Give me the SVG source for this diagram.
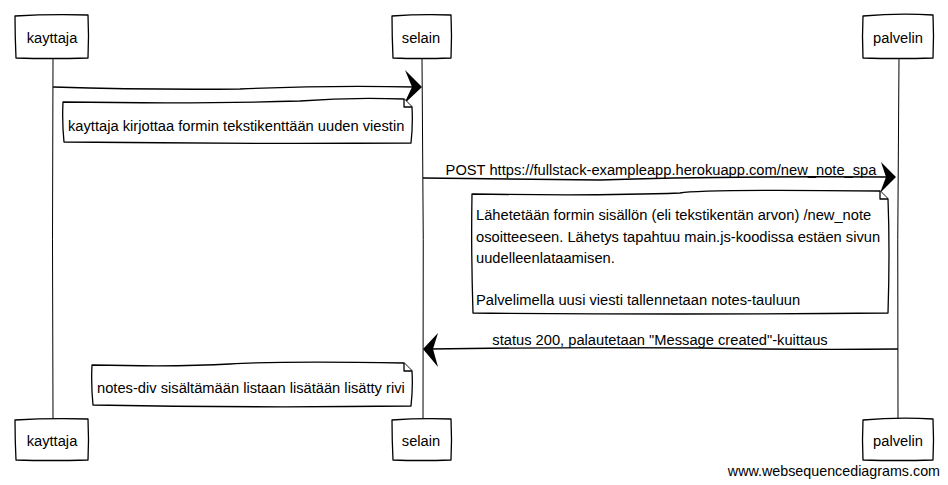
<svg xmlns="http://www.w3.org/2000/svg" width="948" height="485" viewBox="0 0 948 485">
<style>
.box{fill:#fff;stroke:#000;stroke-width:1.3;stroke-linejoin:round}
.life{fill:none;stroke:#000;stroke-width:1}
.msg{fill:none;stroke:#000;stroke-width:1.4}
.head{fill:#000;stroke:none}
.t{font-family:"Liberation Sans",Arial,sans-serif;font-size:14.7px;fill:#000}
.m{text-anchor:middle}
</style>
<rect width="948" height="485" fill="#fff"/>
<g id="lifelines">
<path class="life" d="M53 58 Q52 240 53 419"/>
<path class="life" d="M422 58 Q424 240 423 419"/>
<path class="life" d="M899 58 Q897 240 898 419"/>
</g>
<g id="connectors">
<path class="msg" d="M53 87 Q150 90 240 89 Q330 85 416 87"/>
<path class="head" d="M422 87 L405 70 L412 87 L404 104 Z"/>
<path class="msg" d="M423 178 Q520 179 600 180 Q700 176 888 177"/>
<path class="head" d="M896 177 L881 162 L886 177 L880 193 Z"/>
<path class="msg" d="M898 349 Q800 350 700 348 Q560 347 430 349"/>
<path class="head" d="M423 349 L438 333 L433 349 L438 367 Z"/>
</g>
<g id="kayttaja_top">
<path class="box" d="M15 16 Q50 14 88 15 Q89 36 88 58 Q50 59 16 58 Q15 36 15 16 Z"/>
<text class="t m" x="52" y="43">kayttaja</text>
</g>
<g id="selain_top">
<path class="box" d="M392 16 Q420 14 451 15 Q452 36 451 58 Q420 59 393 58 Q392 36 392 16 Z"/>
<text class="t m" x="421" y="43">selain</text>
</g>
<g id="palvelin_top">
<path class="box" d="M863 16 Q898 13 933 15 Q934 36 933 58 Q898 59 863 58 Q862 36 863 16 Z"/>
<text class="t m" x="898" y="43">palvelin</text>
</g>
<g id="note1">
<path class="box" d="M63 102 Q200 104 300 101 Q350 97 404 99 L412 107 Q413 125 411 143 Q240 144 64 142 Q62 122 63 102 Z"/>
<path class="box" d="M404 99 L404 107 L412 107" fill="none"/>
<text class="t" x="68" y="131">kayttaja kirjottaa formin tekstikenttään uuden viestin</text>
</g>
<g id="note2">
<path class="box" d="M472 194 Q600 196 680 193 Q700 189 880 191 L888 199 Q890 250 888 313 Q680 315 473 313 Q471 250 472 194 Z"/>
<path class="box" d="M880 191 L880 199 L888 199" fill="none"/>
<text class="t" x="476" y="220">Lähetetään formin sisällön (eli tekstikentän arvon) /new_note</text>
<text class="t" x="476" y="242">osoitteeseen. Lähetys tapahtuu main.js-koodissa estäen sivun</text>
<text class="t" x="476" y="263">uudelleenlataamisen.</text>
<text class="t" x="476" y="305">Palvelimella uusi viesti tallennetaan notes-tauluun</text>
</g>
<g id="note3">
<path class="box" d="M92 365 Q180 367 230 364 Q280 361 404 363 L412 371 Q413 388 411 406 Q250 408 93 405 Q91 385 92 365 Z"/>
<path class="box" d="M404 363 L404 371 L412 371" fill="none"/>
<text class="t" x="97" y="393">notes-div sisältämään listaan lisätään lisätty rivi</text>
</g>
<g id="kayttaja_bottom">
<path class="box" d="M15 420 Q50 418 88 419 Q89 440 88 460 Q50 461 16 460 Q15 440 15 420 Z"/>
<text class="t m" x="52" y="446">kayttaja</text>
</g>
<g id="selain_bottom">
<path class="box" d="M392 420 Q420 418 451 419 Q452 440 451 460 Q420 461 393 460 Q392 440 392 420 Z"/>
<text class="t m" x="421" y="446">selain</text>
</g>
<g id="palvelin_bottom">
<path class="box" d="M863 420 Q898 417 933 419 Q934 440 933 460 Q898 461 863 460 Q862 440 863 420 Z"/>
<text class="t m" x="898" y="446">palvelin</text>
</g>
<text class="t m" x="661" y="175">POST https://fullstack-exampleapp.herokuapp.com/new_note_spa</text>
<text class="t m" x="660" y="345">status 200, palautetaan "Message created"-kuittaus</text>
<text class="t" x="940" y="476" text-anchor="end" style="font-size:14.3px">www.websequencediagrams.com</text>
</svg>
